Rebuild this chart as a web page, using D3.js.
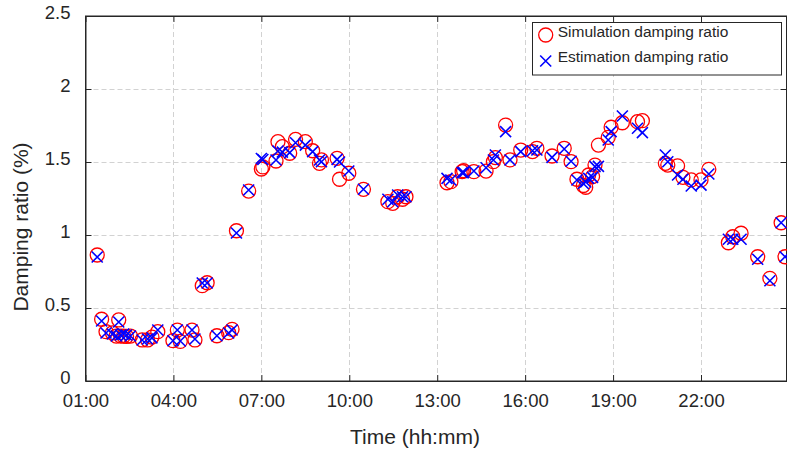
<!DOCTYPE html>
<html>
<head>
<meta charset="utf-8">
<script src="https://cdn.jsdelivr.net/npm/d3@7"></script>
<style>
  body { margin: 0; background: #fff; }
  svg { display: block; font-family: "Liberation Sans", Arial, sans-serif; }
</style>
</head>
<body>
<svg id="vis" width="787" height="452"></svg>
<script>
// sample times (hh:mm, times before 01:00 belong to the next day)
const times = ["01:24","01:33","01:42","01:55","02:03","02:08","02:12","02:18","02:24","02:32",
  "02:56","03:07","03:16","03:28","03:59","04:08","04:14","04:38","04:44","04:59",
  "05:09","05:29","05:53","06:00","06:09","06:34","07:00","07:03","07:30","07:34",
  "07:43","07:58","08:10","08:30","08:45","08:59","09:03","09:35","09:40","09:59",
  "10:29","11:19","11:29","11:39","11:49","11:56","13:20","13:28","13:51","13:54",
  "14:15","14:40","14:55","14:59","15:20","15:29","15:51","16:15","16:24","16:55",
  "17:20","17:34","17:46","17:59","18:04","18:10","18:18","18:23","18:30","18:50",
  "18:56","19:19","19:50","20:00","20:47","20:52","21:12","21:23","21:40","22:00",
  "22:16","22:56","23:05","23:22","23:56","00:21","00:44","00:52"];

const simulation = [0.863,0.423,0.338,0.329,0.308,0.418,0.308,0.308,0.305,0.308,
  0.281,0.281,0.301,0.338,0.276,0.349,0.271,0.349,0.281,0.653,
  0.673,0.310,0.331,0.354,1.029,1.301,1.452,1.466,1.507,1.639,
  1.605,1.560,1.655,1.639,1.577,1.491,1.514,1.525,1.382,1.423,
  1.313,1.228,1.217,1.262,1.245,1.262,1.358,1.365,1.434,1.440,
  1.434,1.438,1.502,1.530,1.753,1.514,1.582,1.571,1.594,1.541,
  1.594,1.502,1.382,1.339,1.327,1.411,1.400,1.479,1.616,1.669,
  1.738,1.769,1.776,1.783,1.491,1.479,1.473,1.395,1.377,1.377,
  1.450,0.947,0.988,1.012,0.851,0.703,1.084,0.851];

const estimation = [0.849,0.411,0.329,0.322,0.308,0.404,0.315,0.322,0.315,0.308,
  0.281,0.288,0.295,0.349,0.276,0.349,0.274,0.349,0.288,0.671,
  0.671,0.310,0.329,0.349,1.014,1.308,1.524,1.517,1.514,1.575,
  1.568,1.564,1.632,1.616,1.571,1.514,1.502,1.518,1.500,1.438,
  1.313,1.245,1.228,1.274,1.262,1.262,1.388,1.377,1.427,1.427,
  1.438,1.461,1.514,1.548,1.708,1.514,1.571,1.577,1.582,1.532,
  1.589,1.505,1.377,1.353,1.363,1.388,1.395,1.468,1.470,1.651,
  1.708,1.815,1.731,1.701,1.548,1.502,1.411,1.382,1.336,1.342,
  1.418,0.971,0.971,0.971,0.834,0.687,1.084,0.851];

const xTicks = ["01:00","04:00","07:00","10:00","13:00","16:00","19:00","22:00"];
const yTicks = [0, 0.5, 1, 1.5, 2, 2.5];
const seriesNames = ["Simulation damping ratio", "Estimation damping ratio"];

const toMin = s => {
  const [h, m] = s.split(":").map(Number);
  const v = h * 60 + m;
  return v < 60 ? v + 1440 : v;
};

const axisColor = "#262626";
const plotL = 85.5, plotR = 786.5, plotT = 16, plotB = 381;

const svg = d3.select("#vis");
const x = d3.scaleLinear().domain([60, 1495]).range([plotL, plotR]);
const y = d3.scaleLinear().domain([0, 2.5]).range([plotB, plotT]);

const data = times.map((t, i) => ({ t: toMin(t), sim: simulation[i], est: estimation[i] }));

// grid
const grid = svg.append("g").attr("stroke", "#d2d2d2").attr("stroke-dasharray", "5,3").attr("stroke-width", 1);
grid.selectAll("line.gx").data(xTicks.slice(1)).join("line")
  .attr("x1", d => Math.round(x(toMin(d))) + 0.5).attr("x2", d => Math.round(x(toMin(d))) + 0.5)
  .attr("y1", plotT).attr("y2", plotB);
grid.selectAll("line.gy").data(yTicks.slice(1, -1)).join("line")
  .attr("y1", d => Math.round(y(d)) + 0.5).attr("y2", d => Math.round(y(d)) + 0.5)
  .attr("x1", plotL).attr("x2", plotR);

// axes (bottom/left with labels, top/right ticks only)
const xTickMins = xTicks.map(toMin);
const xAxis = d3.axisBottom(x).tickValues(xTickMins).tickSizeInner(-6).tickSizeOuter(0)
  .tickPadding(13).tickFormat(d => xTicks[xTickMins.indexOf(d)]);
const gx = svg.append("g").attr("transform", `translate(0,${plotB})`).call(xAxis);
gx.selectAll("text").attr("font-size", 18.5).attr("fill", axisColor);

const yAxis = d3.axisLeft(y).tickValues(yTicks).tickSizeInner(-6).tickSizeOuter(0)
  .tickPadding(15).tickFormat(d3.format(""));
const gy = svg.append("g").attr("transform", `translate(${plotL},0)`).call(yAxis);
gy.selectAll("text").attr("font-size", 18.5).attr("fill", axisColor).attr("dy", "0.15em");

svg.append("g").attr("transform", `translate(0,${plotT})`)
  .call(d3.axisTop(x).tickValues(xTickMins).tickSizeInner(-6).tickSizeOuter(0).tickFormat(""));
svg.append("g").attr("transform", `translate(${plotR},0)`)
  .call(d3.axisRight(y).tickValues(yTicks).tickSizeInner(-6).tickSizeOuter(0).tickFormat(""));

svg.selectAll(".domain, .tick line").attr("stroke", axisColor);

// frame
svg.append("rect").attr("x", plotL).attr("y", plotT).attr("width", plotR - plotL).attr("height", plotB - plotT)
  .attr("fill", "none").attr("stroke", axisColor).attr("stroke-width", 1);

// markers
const crossPath = (cx, cy, s) => `M${cx - s},${cy - s}L${cx + s},${cy + s}M${cx - s},${cy + s}L${cx + s},${cy - s}`;

svg.append("g").selectAll("circle").data(data).join("circle")
  .attr("cx", d => x(d.t)).attr("cy", d => y(d.sim)).attr("r", 7)
  .attr("fill", "none").attr("stroke", "#ff0000").attr("stroke-width", 1.3);

svg.append("g").selectAll("path").data(data).join("path")
  .attr("d", d => crossPath(x(d.t), y(d.est), 5.5))
  .attr("fill", "none").attr("stroke", "#0000ff").attr("stroke-width", 1.6);

// axis labels
svg.append("text").attr("x", 415).attr("y", 444).attr("text-anchor", "middle")
  .attr("font-size", 21).attr("fill", axisColor).text("Time (hh:mm)");
svg.append("text").attr("transform", "translate(28,227) rotate(-90)").attr("text-anchor", "middle")
  .attr("font-size", 21).attr("fill", axisColor).text("Damping ratio (%)");

// legend
const legend = svg.append("g");
legend.append("rect").attr("x", 532.5).attr("y", 22.5).attr("width", 249).attr("height", 52.5)
  .attr("fill", "#fff").attr("stroke", axisColor).attr("stroke-width", 1);
legend.append("circle").attr("cx", 545.7).attr("cy", 35).attr("r", 7)
  .attr("fill", "none").attr("stroke", "#ff0000").attr("stroke-width", 1.3);
legend.append("path").attr("d", crossPath(545.7, 61, 5.5))
  .attr("fill", "none").attr("stroke", "#0000ff").attr("stroke-width", 1.6);
legend.selectAll("text").data(seriesNames).join("text")
  .attr("x", 557.7).attr("y", (d, i) => 37 + i * 25)
  .attr("font-size", 15.5).attr("fill", axisColor).text(d => d);
</script>
</body>
</html>
